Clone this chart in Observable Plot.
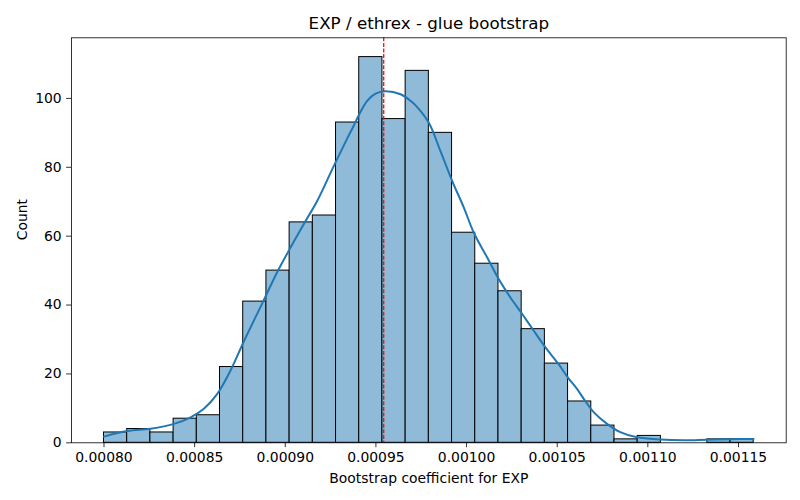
<!DOCTYPE html>
<html>
<head>
<meta charset="utf-8">
<script src="https://cdn.jsdelivr.net/npm/d3@7"></script>
<script src="https://cdn.jsdelivr.net/npm/@observablehq/plot@0.6"></script>
<style>
  html, body { margin: 0; padding: 0; background: white; }
  #chart { width: 800px; height: 500px; }
</style>
</head>
<body>
<div id="chart"></div>
<script>
// ---- data ----
const binEdges = [
  0.0008000, 0.0008128, 0.0008256, 0.0008384, 0.0008512, 0.0008640, 0.0008768,
  0.0008896, 0.0009024, 0.0009152, 0.0009280, 0.0009408, 0.0009536, 0.0009664,
  0.0009792, 0.0009920, 0.0010048, 0.0010176, 0.0010304, 0.0010432, 0.0010560,
  0.0010688, 0.0010816, 0.0010944, 0.0011072, 0.0011200, 0.0011328, 0.0011456,
  0.0011584
];
const binCounts = [
  3, 4, 3, 7, 8, 22, 41, 50, 64, 66, 93, 112, 94, 108,
  90, 61, 52, 44, 33, 23, 12, 5, 1, 2, 0, 0, 1, 1
];
const kdeX = [
  0.0008000, 0.0008129, 0.0008257, 0.0008386, 0.0008478, 0.0008551, 0.0008625,
  0.0008698, 0.0008772, 0.0008873, 0.0008956, 0.0009029, 0.0009112, 0.0009176,
  0.0009268, 0.0009342, 0.0009377, 0.0009406, 0.0009452, 0.0009498, 0.0009553,
  0.0009636, 0.0009691, 0.0009729, 0.0009792, 0.0009856, 0.0009921, 0.0009985,
  0.0010040, 0.0010114, 0.0010178, 0.0010242, 0.0010307, 0.0010370, 0.0010435,
  0.0010507, 0.0010558, 0.0010610, 0.0010655, 0.0010701, 0.0010775, 0.0010848,
  0.0010940, 0.0011069, 0.0011197, 0.0011326, 0.0011455, 0.0011583
];
const kdeY = [
  1.8, 3.4, 4.1, 5.5, 7.4, 9.9, 14.2,
  21, 29.5, 40.5, 49.6, 56.7, 64.4, 70.2,
  80.4, 88.4, 92.0, 95.2, 99.3, 101.4, 102.1,
  101.2, 99.3, 97.4, 92.9, 84.7, 76, 68.3,
  61, 53.8, 47.5, 42.2, 37.4, 32.6, 27.7,
  22.9, 19, 15.6, 12.1, 8.9, 5.5, 3.1,
  1.6, 0.96, 0.75, 0.9, 1.05, 1.1
];
const meanValue = 0.0009543;
const xTicks = [0.00080, 0.00085, 0.00090, 0.00095, 0.00100, 0.00105, 0.00110, 0.00115];
const yTicks = [0, 20, 40, 60, 80, 100];
const titleText = "EXP / ethrex - glue bootstrap";
const xLabel = "Bootstrap coefficient for EXP";
const yLabel = "Count";

// ---- tables built from the arrays ----
const bins = binCounts.map((c, i) => ({x1: binEdges[i], x2: binEdges[i + 1], count: c}));
const kde = kdeX.map((x, i) => ({x, y: kdeY[i]}));

const xPad = (binEdges[binEdges.length - 1] - binEdges[0]) * 0.05;
const yMax = d3.max(binCounts) * 1.05;

const chart = Plot.plot({
  width: 800,
  height: 500,
  marginLeft: 71,
  marginRight: 14.3,
  marginTop: 37.3,
  marginBottom: 57.7,
  style: {fontFamily: "DejaVu Sans", fontSize: "13.9px", background: "white", color: "black", overflow: "visible"},
  x: {domain: [binEdges[0] - xPad, binEdges[binEdges.length - 1] + xPad]},
  y: {domain: [0, yMax]},
  marks: [
    Plot.rectY(bins, {x1: "x1", x2: "x2", y: "count", fill: "#8fbbd9", stroke: "black", strokeWidth: 1}),
    Plot.line(kde, {x: "x", y: "y", stroke: "#1f77b4", strokeWidth: 2, curve: "catmull-rom"}),
    Plot.ruleX([meanValue], {stroke: "#ee1111", strokeWidth: 1.3, strokeDasharray: "4,1.6"}),
    Plot.frame({stroke: "black", strokeWidth: 0.8}),
    Plot.axisX({ticks: xTicks, tickFormat: d3.format(".5f"), tickSize: 4.9, tickPadding: 4.9, strokeWidth: 0.8, label: null, fontSize: 13.9}),
    Plot.axisY({ticks: yTicks, tickFormat: d3.format("d"), tickSize: 4.9, tickPadding: 4.9, strokeWidth: 0.8, label: null, fontSize: 13.9}),
    Plot.text([titleText], {frameAnchor: "top", dy: -14.5, lineAnchor: "middle", fontSize: 16.7, fill: "black"}),
    Plot.text([xLabel], {frameAnchor: "bottom", dy: 36, lineAnchor: "middle", fontSize: 13.9, fill: "black"}),
    Plot.text([yLabel], {frameAnchor: "left", dx: -49, rotate: -90, lineAnchor: "middle", fontSize: 13.9, fill: "black"})
  ]
});
document.getElementById("chart").appendChild(chart);
</script>
</body>
</html>
